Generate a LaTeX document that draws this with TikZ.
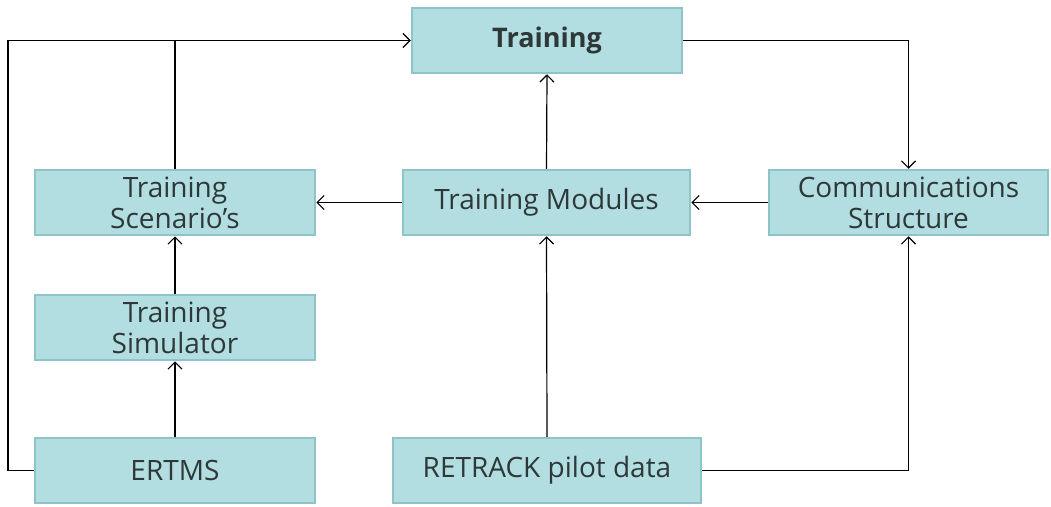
\documentclass[tikz,border=0pt]{standalone}
\usepackage{fontspec}
\setmainfont{Open Sans}
\usetikzlibrary{arrows.meta}
\definecolor{boxfill}{HTML}{B2DEE2}
\definecolor{boxline}{HTML}{8CC4C8}
\definecolor{boxtext}{HTML}{2E3838}

\begin{document}
\begin{tikzpicture}[x=1pt,y=1pt,
  box/.style={draw=boxline,line width=2.5pt,fill=boxfill,text=boxtext,
    inner sep=0pt,minimum height=65,align=center,
    font=\fontsize{28}{31}\selectfont},
  link/.style={-{Straight Barb[length=7pt,width=14pt]},line width=1.2pt}]
\useasboundingbox (0,0) rectangle (1051,-506);
\node [box,minimum width=270,font=\fontsize{27}{31}\selectfont\bfseries] (train) at (547,-40.5) {Training};
\node [box,minimum width=287] (mods) at (546.5,-202.5) {Training Modules};
\node [box,minimum width=279] (comm) at (908.5,-202.5) {Communications\\Structure};
\node [box,minimum width=280] (scen) at (175,-202.5) {Training\\Scenario’s};
\node [box,minimum width=280] (sim) at (175,-327.5) {Training\\Simulator};
\node [box,minimum width=280] (ertms) at (175,-470.5) {ERTMS};
\node [box,minimum width=308] (retr) at (547,-470.5) {RETRACK pilot data};
\coordinate (lft) at (8,-470.5);
% connectors
\draw [link] (ertms.west) -- (lft) |- (train.west);
\draw [line width=1.2pt] (scen.north) -- (scen.north |- train.west);
\draw [link] (train.east) -| (comm.north);
\draw [link] (mods.north) -- (train.south);
\draw [link] (comm.west) -- (mods.east);
\draw [link] (mods.west) -- (scen.east);
\draw [link] (sim.north) -- (scen.south);
\draw [link] (ertms.north) -- (sim.south);
\draw [link] (retr.north) -- (mods.south);
\draw [link] (retr.east) -| (comm.south);
\end{tikzpicture}
\end{document}
